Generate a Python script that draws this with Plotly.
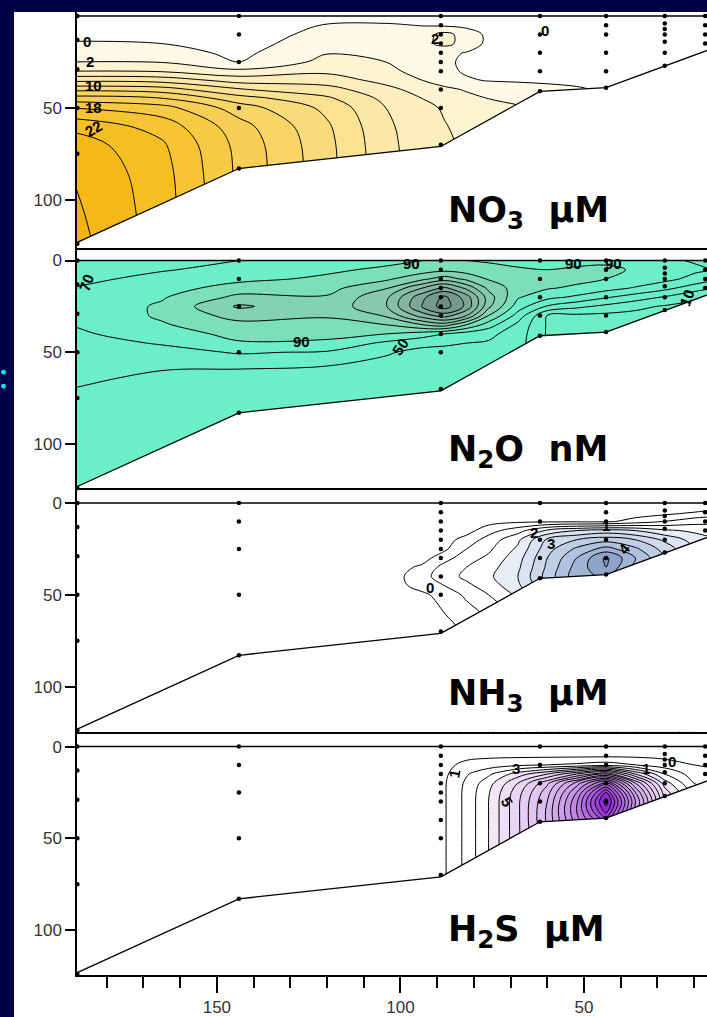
import plotly.graph_objects as go

# ---------------- section grid (distance offshore in km, depth in m) ----------------
KM = [12, 20, 28, 36, 44, 52, 60, 68, 76, 82, 88, 94, 104, 120, 144, 165, 190]
DEPTH = [0, 5, 10, 15, 20, 25, 30, 35, 40, 45, 50, 60, 70, 85, 105, 125]

# sea-floor profile along the section
FLOOR_KM = [190, 144, 89, 62, 44, 10]
FLOOR_DEPTH = [125, 83, 71, 41, 39, 14]

# sampling stations and bottle depths
STATION_KM = [188, 144, 89, 62, 44, 28, 17]
STATION_DEPTHS = [
    [0, 13, 29, 50, 75, 124],
    [0, 10, 25, 50, 83],
    [0, 5, 10, 15, 20, 25, 30, 40, 50, 70],
    [0, 10, 20, 30, 41],
    [0, 5, 10, 20, 30, 39],
    [0, 4, 7, 10, 14, 20, 27],
    [0, 5, 10, 15],
]

# nitrate, µM (rows = DEPTH, columns = KM)
NO3 = [
    [-2, -2, -2, -2, -2, -2, -2, -2, -2, -1.5, -1.2, -1.2, -1.2, -1.5, -2, -2, -2],
    [-1.5, -1.5, -1.5, -1.5, -1.5, -1.5, -1.5, -1.2, -1, -0.6, -0.3, -0.1, 0.3, 0.2, -1.8, -1.5, -1.5],
    [-1, -1, -1, -1, -1, -1, -1, -0.8, -0.5, 1.2, 2.6, 1.2, 0.8, 0.9, -1.5, -0.8, -0.6],
    [-1, -1, -1, -1, -1, -1, -0.8, -0.7, -0.5, 1.2, 2.6, 1.4, 1.2, 1.4, -1.0, 0.0, 0.2],
    [-1, -1, -1, -1, -1, -1, -0.7, -0.6, -0.5, -0.1, 0.4, 0.9, 1.5, 1.9, -0.5, 0.9, 1.0],
    [-1, -1, -1, -1, -1, -0.8, -0.6, -0.5, -0.4, -0.2, 0.2, 0.8, 2.0, 2.6, 0.0, 1.9, 2.0],
    [-1, -1, -1, -1, -0.8, -0.6, -0.5, -0.4, -0.3, -0.2, 0.4, 1.2, 2.6, 3.6, 2.5, 3.8, 4.0],
    [-1, -1, -1, -0.8, -0.6, -0.4, -0.3, -0.2, -0.1, 0.2, 1.0, 2.0, 3.4, 5.0, 5.2, 7.2, 7.5],
    [-1, -1, -1, -0.6, -0.2, 0.2, 0.5, 0.8, 1.2, 1.8, 2.5, 3.2, 4.6, 6.8, 8.2, 11.0, 11.5],
    [-1, -1, -1, -0.4, 0.3, 0.8, 1.2, 1.6, 2.0, 2.6, 3.3, 4.0, 5.5, 8.4, 11.0, 14.2, 15.0],
    [-1, -1, -1, -0.2, 0.6, 1.2, 1.8, 2.2, 2.6, 3.1, 3.8, 4.5, 6.0, 9.5, 13.0, 16.8, 18.0],
    [-1, -1, -1, 0, 1, 1.6, 2.3, 2.8, 3.1, 3.5, 4.1, 4.8, 6.4, 10.3, 14.8, 19.2, 21.5],
    [-1, -1, -1, 0, 1, 1.6, 2.4, 3.0, 3.3, 3.7, 4.3, 4.9, 6.6, 10.6, 15.4, 20.3, 23.2],
    [-1, -1, -1, 0, 1, 1.6, 2.4, 3.0, 3.4, 3.8, 4.4, 5.0, 6.7, 10.7, 15.6, 20.8, 24.0],
    [-1, -1, -1, 0, 1, 1.6, 2.4, 3.0, 3.4, 3.8, 4.4, 5.0, 6.7, 10.7, 15.7, 21.0, 24.5],
    [-1, -1, -1, 0, 1, 1.6, 2.4, 3.0, 3.4, 3.8, 4.4, 5.0, 6.7, 10.7, 15.7, 21.0, 25.0],
]

# nitrous oxide, nM
N2O = [
    [62, 68, 74, 80, 86, 84, 82, 85, 88, 90, 92, 90, 84, 76, 70, 64, 55],
    [66, 74, 82, 88, 94, 93, 90, 92, 96, 100, 104, 100, 94, 86, 74, 69, 60],
    [50, 64, 76, 84, 90, 96, 96, 98, 108, 125, 140, 125, 106, 94, 84, 74, 66],
    [25, 40, 56, 68, 78, 86, 92, 100, 125, 165, 195, 170, 128, 103, 100, 80, 70],
    [6, 14, 28, 40, 52, 66, 76, 92, 140, 200, 235, 205, 145, 112, 115, 88, 72],
    [3, 4, 8, 15, 25, 35, 48, 80, 135, 205, 240, 212, 148, 116, 133, 93, 73],
    [3, 3, 3, 4, 5, 6, 9, 62, 110, 170, 200, 180, 132, 112, 118, 93, 72],
    [3, 3, 3, 3, 3, 4, 8, 45, 80, 110, 140, 130, 110, 104, 104, 88, 70],
    [3, 3, 3, 3, 3, 4, 8, 40, 55, 60, 70, 80, 90, 96, 96, 80, 66],
    [3, 3, 3, 3, 3, 4, 8, 38, 48, 50, 52, 55, 66, 86, 88, 72, 60],
    [3, 3, 3, 3, 3, 4, 8, 38, 44, 46, 46, 45, 52, 68, 72, 62, 55],
    [3, 3, 3, 3, 3, 4, 8, 38, 40, 42, 42, 40, 42, 44, 48, 50, 52],
    [3, 3, 3, 3, 3, 4, 8, 38, 38, 38, 38, 37, 38, 38, 40, 46, 50],
    [3, 3, 3, 3, 3, 4, 8, 38, 36, 36, 36, 36, 36, 36, 37, 42, 49],
    [3, 3, 3, 3, 3, 4, 8, 38, 36, 36, 36, 36, 36, 36, 36, 40, 48],
    [3, 3, 3, 3, 3, 4, 8, 38, 36, 36, 36, 36, 36, 36, 36, 40, 47],
]

# ammonium, µM
NH3 = [
    [-0.3] * 17,
    [0.2, 0.0, -0.2, -0.3, -0.3, -0.3, -0.3, -0.3, -0.3, -0.3, -0.3, -0.3, -0.3, -0.3, -0.3, -0.3, -0.3],
    [0.9, 0.8, 0.5, 0.2, -0.1, -0.1, -0.1, -0.1, -0.2, -0.3, -0.3, -0.3, -0.3, -0.3, -0.3, -0.3, -0.3],
    [1.2, 1.4, 1.6, 2.0, 2.2, 2.0, 1.6, 0.8, 0.3, -0.2, -0.3, -0.3, -0.3, -0.3, -0.3, -0.3, -0.3],
    [1.4, 1.8, 2.4, 3.0, 3.3, 3.0, 2.6, 1.4, 0.7, 0.2, -0.2, -0.3, -0.3, -0.3, -0.3, -0.3, -0.3],
    [1.5, 2.0, 2.8, 3.6, 4.2, 3.6, 2.8, 1.6, 0.9, 0.5, -0.1, -0.3, -0.3, -0.3, -0.3, -0.3, -0.3],
    [1.5, 2.0, 3.0, 4.0, 5.1, 4.0, 3.0, 1.8, 1.1, 0.8, 0.3, -0.2, -0.3, -0.3, -0.3, -0.3, -0.3],
    [1.5, 2.0, 3.0, 3.8, 5.0, 4.2, 3.1, 1.9, 1.3, 1.0, 0.7, 0.1, -0.3, -0.3, -0.3, -0.3, -0.3],
    [1.5, 2.0, 3.0, 3.6, 4.6, 4.3, 3.2, 2.0, 1.4, 1.1, 0.8, 0.3, -0.3, -0.3, -0.3, -0.3, -0.3],
    [1.5, 2.0, 3.0, 3.4, 4.2, 4.0, 3.0, 1.9, 1.2, 0.9, 0.5, 0.2, -0.3, -0.3, -0.3, -0.3, -0.3],
    [1.5, 2.0, 3.0, 3.2, 4.0, 3.8, 2.8, 1.6, 1.0, 0.6, 0.2, -0.1, -0.3, -0.3, -0.3, -0.3, -0.3],
    [1.5, 2.0, 3.0, 3.0, 3.8, 3.6, 2.6, 1.2, 0.6, 0.3, 0.0, -0.3, -0.3, -0.3, -0.3, -0.3, -0.3],
    [1.5, 2.0, 3.0, 3.0, 3.8, 3.6, 2.6, 1.0, 0.4, 0.1, -0.2, -0.3, -0.3, -0.3, -0.3, -0.3, -0.3],
    [1.5, 2.0, 3.0, 3.0, 3.8, 3.6, 2.6, 1.0, 0.4, 0.1, -0.2, -0.3, -0.3, -0.3, -0.3, -0.3, -0.3],
    [1.5, 2.0, 3.0, 3.0, 3.8, 3.6, 2.6, 1.0, 0.4, 0.1, -0.2, -0.3, -0.3, -0.3, -0.3, -0.3, -0.3],
    [1.5, 2.0, 3.0, 3.0, 3.8, 3.6, 2.6, 1.0, 0.4, 0.1, -0.2, -0.3, -0.3, -0.3, -0.3, -0.3, -0.3],
]

# hydrogen sulphide, µM
H2S = [
    [-0.5] * 17,
    [-0.3, -0.3, -0.3, -0.2, -0.2, -0.2, -0.2, -0.2, -0.2, -0.3, -0.5, -0.5, -0.5, -0.5, -0.5, -0.5, -0.5],
    [-0.2, 0.0, 0.5, 1.0, 1.5, 1.2, 1.0, 0.8, 0.5, 0.3, -0.3, -0.5, -0.5, -0.5, -0.5, -0.5, -0.5],
    [0.2, 0.5, 2.0, 5.0, 9.0, 7.0, 5.0, 3.5, 1.8, 0.9, -0.2, -0.5, -0.5, -0.5, -0.5, -0.5, -0.5],
    [0.5, 1.0, 3.5, 9.0, 15.5, 11.5, 7.8, 5.0, 2.6, 1.2, -0.1, -0.5, -0.5, -0.5, -0.5, -0.5, -0.5],
    [0.6, 1.5, 4.5, 11.0, 19.0, 13.0, 8.6, 5.6, 2.9, 1.3, -0.1, -0.5, -0.5, -0.5, -0.5, -0.5, -0.5],
    [0.6, 1.6, 5.0, 12.0, 20.5, 13.8, 9.0, 5.8, 3.0, 1.3, -0.1, -0.5, -0.5, -0.5, -0.5, -0.5, -0.5],
    [0.6, 1.6, 5.0, 11.5, 19.5, 14.0, 9.2, 5.8, 3.0, 1.3, -0.1, -0.5, -0.5, -0.5, -0.5, -0.5, -0.5],
    [0.6, 1.6, 5.0, 11.0, 17.5, 13.6, 9.2, 5.8, 3.0, 1.3, -0.1, -0.5, -0.5, -0.5, -0.5, -0.5, -0.5],
    [0.6, 1.6, 5.0, 10.5, 15.0, 13.0, 9.0, 5.8, 3.0, 1.3, -0.1, -0.5, -0.5, -0.5, -0.5, -0.5, -0.5],
    [0.6, 1.6, 5.0, 10.0, 14.0, 12.5, 8.8, 5.8, 3.0, 1.3, -0.1, -0.5, -0.5, -0.5, -0.5, -0.5, -0.5],
    [0.6, 1.6, 5.0, 10.0, 13.0, 12.0, 8.6, 5.8, 3.0, 1.3, -0.1, -0.5, -0.5, -0.5, -0.5, -0.5, -0.5],
    [0.6, 1.6, 5.0, 10.0, 13.0, 12.0, 8.6, 5.8, 3.0, 1.3, -0.1, -0.5, -0.5, -0.5, -0.5, -0.5, -0.5],
    [0.6, 1.6, 5.0, 10.0, 13.0, 12.0, 8.6, 5.8, 3.0, 1.3, -0.1, -0.5, -0.5, -0.5, -0.5, -0.5, -0.5],
    [0.6, 1.6, 5.0, 10.0, 13.0, 12.0, 8.6, 5.8, 3.0, 1.3, -0.1, -0.5, -0.5, -0.5, -0.5, -0.5, -0.5],
    [0.6, 1.6, 5.0, 10.0, 13.0, 12.0, 8.6, 5.8, 3.0, 1.3, -0.1, -0.5, -0.5, -0.5, -0.5, -0.5, -0.5],
]

PANEL_TITLES = ["NO<sub>3</sub>&nbsp; µM", "N<sub>2</sub>O&nbsp; nM",
                "NH<sub>3</sub>&nbsp; µM", "H<sub>2</sub>S&nbsp; µM"]

# contour levels: (start, end, step)
LEVELS = [(0, 24, 2), (10, 230, 20), (0, 5, 0.5), (0, 20, 1)]

# contour labels: (text, km, depth, angle)
LABELS = [
    [("0", 185.3, 14, 0), ("2", 184.6, 25, 0), ("10", 183.6, 38, 0),
     ("18", 183.6, 50, 0), ("22", 183.6, 61, -30), ("2", 90.5, 12, 0), ("0", 60.5, 8, 0)],
    [("70", 185.5, 12, -70), ("90", 97, 1.5, 0), ("90", 127, 44, 0), ("50", 100, 47, -55),
     ("90", 53, 1.5, 0), ("90", 42, 1.5, 0), ("10", 22, 20, -70)],
    [("0", 92, 46, 0), ("2", 63.5, 16, 0), ("3", 59, 22, 0), ("1", 44, 12, 0), ("4", 39, 25, -50)],
    [("1", 85.5, 15, -80), ("3", 68.5, 12, 0), ("5", 71, 30, 60), ("1", 33, 12, 0), ("0", 26, 8, 0)],
]

COLORSCALES = [
    [[0, "#FFFFFF"], [0.035, "#FFFFFF"], [0.08, "#FFFAE6"], [0.3, "#FCE9A8"],
     [0.55, "#F9D462"], [0.8, "#F6C22C"], [1, "#F3B40A"]],
    [[0, "#6CEFC7"], [0.38, "#6CEFC7"], [0.42, "#7CDDB8"], [0.55, "#86CDAE"],
     [0.75, "#86B5A2"], [1, "#6C8D80"]],
    [[0, "#FFFFFF"], [0.3, "#FFFFFF"], [0.36, "#E6EDF7"], [0.55, "#CDD9EC"],
     [0.75, "#ADBFDC"], [0.9, "#91A6CA"], [1, "#7C93BD"]],
    [[0, "#FFFFFF"], [0.14, "#FFFFFF"], [0.19, "#F2E6F9"], [0.4, "#DFC3F0"],
     [0.6, "#C79AE6"], [0.78, "#AE66DC"], [0.9, "#9A3CD4"], [1, "#8A1CCB"]],
]

FIELDS = [NO3, N2O, NH3, H2S]

# ---------------- page geometry ----------------
W, H = 707, 1017
ML, MT, MB = 77, 12, 40
PH = H - MT - MB
NAVY = "#000046"

# panel pixel bounds (top, bottom) and depth ranges (bottom, top)
PANEL_PX = [(12, 248), (248, 489), (489, 733), (733, 977)]
YRANGES = [[126, -2.2], [124, -7.1], [124.5, -8.2], [124.5, -8.2]]
XRANGE = [188.1, 16.5]


def ypaper(py):
    return (H - MB - py) / PH


def xpaper(px):
    return (px - ML) / (W - ML)


fig = go.Figure()
layout = dict(
    width=W, height=H,
    margin=dict(l=ML, r=0, t=MT, b=MB, pad=0),
    paper_bgcolor="white", plot_bgcolor="white",
    showlegend=False,
    font=dict(family="Liberation Sans, Arial, sans-serif", color="#333333"),
)

shapes = []
annotations = []

for i in range(4):
    n = i + 1
    xa = "x" if n == 1 else f"x{n}"
    ya = "y" if n == 1 else f"y{n}"
    start, end, step = LEVELS[i]

    fig.add_trace(go.Contour(
        x=KM, y=DEPTH, z=FIELDS[i], xaxis=xa, yaxis=ya,
        contours=dict(start=start, end=end, size=step, coloring="fill", showlines=True),
        line=dict(color="black", width=1, smoothing=1.0),
        colorscale=COLORSCALES[i], showscale=False, hoverinfo="skip",
    ))
    # blank out the sea bed
    fig.add_trace(go.Scatter(
        x=FLOOR_KM + [FLOOR_KM[-1], FLOOR_KM[0]],
        y=FLOOR_DEPTH + [200, 200],
        fill="toself", fillcolor="white", mode="none",
        xaxis=xa, yaxis=ya, hoverinfo="skip",
    ))
    fig.add_trace(go.Scatter(
        x=FLOOR_KM, y=FLOOR_DEPTH, mode="lines",
        line=dict(color="black", width=1.3),
        xaxis=xa, yaxis=ya, hoverinfo="skip",
    ))
    # sampling points
    sx, sy = [], []
    for km, deps in zip(STATION_KM, STATION_DEPTHS):
        for d in deps:
            sx.append(km)
            sy.append(d)
    fig.add_trace(go.Scatter(
        x=sx, y=sy, mode="markers",
        marker=dict(color="black", size=4.5),
        xaxis=xa, yaxis=ya, hoverinfo="skip", cliponaxis=False,
    ))

    top, bot = PANEL_PX[i]
    last = n == 4
    layout["xaxis" if n == 1 else f"xaxis{n}"] = dict(
        domain=[0, 1], range=XRANGE, anchor=ya,
        showline=True, linecolor="black", linewidth=1.5,
        showgrid=False, zeroline=False,
        ticks="outside" if last else "", ticklen=16, tickwidth=1.5, tickcolor="black",
        tick0=0, dtick=50, showticklabels=last,
        tickfont=dict(size=17, color="#333333"),
        minor=dict(ticks="outside", dtick=10, tick0=0, ticklen=11, tickwidth=1.5,
                   tickcolor="black") if last else None,
    )
    layout["yaxis" if n == 1 else f"yaxis{n}"] = dict(
        domain=[ypaper(bot), ypaper(top)], range=YRANGES[i], anchor=xa,
        showline=True, linecolor="black", linewidth=1.5,
        showgrid=False, zeroline=False,
        tickmode="array", tickvals=[50, 100] if n == 1 else [0, 50, 100],
        ticks="outside", ticklen=10, tickwidth=1.5, tickcolor="black",
        tickfont=dict(size=17, color="#333333"),
    )
    # sea-surface line
    shapes.append(dict(type="line", xref=f"{xa} domain", x0=0, x1=1, yref=ya, y0=0, y1=0,
                       line=dict(color="black", width=1.5)))
    # panel title
    annotations.append(dict(
        text=PANEL_TITLES[i], xref="paper", yref="paper",
        x=xpaper(446), y=ypaper((213, 452, 697, 933)[i]),
        xanchor="left", yanchor="middle", showarrow=False,
        font=dict(family="DejaVu Sans", size=35, color="black", weight="bold"),
    ))
    for text, km, dep, ang in LABELS[i]:
        annotations.append(dict(
            text=text, xref=xa, yref=ya, x=km, y=dep, showarrow=False, textangle=ang,
            font=dict(family="Liberation Sans", size=15, color="black", weight="bold"),
        ))

# dark slide frame around the figure and a cyan fragment at the left edge
shapes.insert(0, dict(type="rect", xref="paper", yref="paper", x0=xpaper(-5), x1=xpaper(14),
                      y0=ypaper(1030), y1=ypaper(-5), fillcolor=NAVY, line=dict(width=0),
                      layer="above"))
shapes.insert(1, dict(type="rect", xref="paper", yref="paper", x0=xpaper(-5), x1=xpaper(715),
                      y0=ypaper(12), y1=ypaper(-5), fillcolor=NAVY, line=dict(width=0),
                      layer="above"))
for cy in (373, 387):
    shapes.append(dict(type="circle", xref="paper", yref="paper",
                       x0=xpaper(1), x1=xpaper(6), y0=ypaper(cy + 2.5), y1=ypaper(cy - 2.5),
                       fillcolor="#00DDF0", line=dict(width=0)))

layout["shapes"] = shapes
layout["annotations"] = annotations
fig.update_layout(**layout)
fig.write_html("out.html")
